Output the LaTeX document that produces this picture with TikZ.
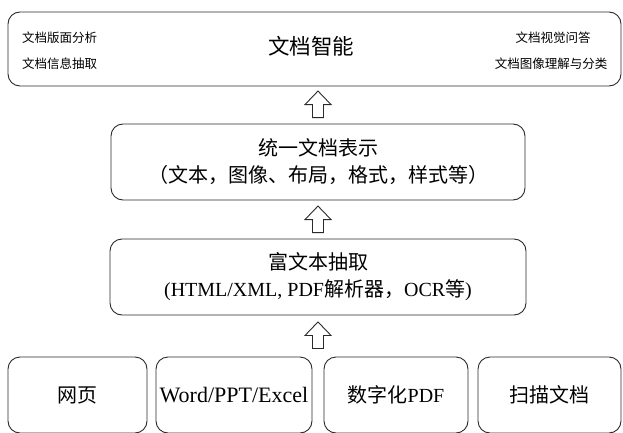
\documentclass[tikz,border=0pt]{standalone}
\usepackage{fontspec}
\setmainfont{Liberation Serif}
\newfontfamily\cjk{Noto Sans CJK SC}
\usetikzlibrary{calc}
\definecolor{linec}{HTML}{2A2A2A}
\tikzset{
  box/.style={draw=linec, line width=0.9pt, rounded corners=12pt, inner sep=0pt},
  bigtxt/.style={font=\fontsize{20}{27}\selectfont, align=center, inner sep=0pt, text=black},
  smalltxt/.style={font=\cjk\fontsize{12.5}{15}\selectfont, inner sep=0pt, text=black},
  blockarrow/.style={draw=linec, line width=0.9pt, fill=white, line join=miter},
}
\newcommand{\uparr}[1]{%
  \draw[blockarrow] (#1) ++(-5.5,0) -- ++(0,13) -- ++(-7.5,0) -- ++(13,13.5) -- ++(13,-13.5) -- ++(-7.5,0) -- ++(0,-13) -- cycle;}
\begin{document}
\begin{tikzpicture}[x=1pt,y=1pt]
\useasboundingbox (0,0) rectangle (623,432);
\clip (0,0) rectangle (623,432);
% top box
\node[box, minimum width=613, minimum height=74] (top) at (314.5,383) {};
\node[bigtxt, font=\cjk\fontsize{21.5}{27}\selectfont] (topt) at (311,386) {文档智能};
\node[smalltxt, anchor=west] (l1) at (22,394) {文档版面分析};
\node[smalltxt, anchor=west] (l2) at (22,368) {文档信息抽取};
\node[smalltxt] (r1) at (553,394) {文档视觉问答};
\node[smalltxt] (r2) at (551,368) {文档图像理解与分类};
% middle boxes
\node[box, minimum width=414, minimum height=76, bigtxt, font=\cjk\fontsize{20}{27}\selectfont] (rep) at (318,270)
  {统一文档表示\\（文本，图像、布局，格式，样式等）};
\node[box, minimum width=416, minimum height=76, bigtxt] (rich) at (318,155)
  {{\cjk 富文本抽取}\\(HTML/XML, PDF{\cjk 解析器，}OCR{\cjk 等})};
% bottom boxes
\node[box, minimum width=139, minimum height=76, bigtxt, font=\cjk\fontsize{20}{27}\selectfont] (web) at (77.5,37) {网页};
\node[box, minimum width=156, minimum height=76, bigtxt, font=\fontsize{22}{27}\selectfont] (word) at (234,37) {Word/PPT/Excel};
\node[box, minimum width=144, minimum height=76, bigtxt] (pdf) at (396,37) {{\cjk 数字化}PDF};
\node[box, minimum width=143, minimum height=76, bigtxt, font=\cjk\fontsize{20}{27}\selectfont] (scan) at (549.5,37) {扫描文档};
% arrows
\coordinate (a1) at ($(rep.north)+(0,6)$);
\coordinate (a2) at ($(rich.north)+(0,6)$);
\coordinate (a3) at ($(rich.south)+(0,-33)$);
\uparr{a1}
\uparr{a2}
\uparr{a3}
\end{tikzpicture}
\end{document}
